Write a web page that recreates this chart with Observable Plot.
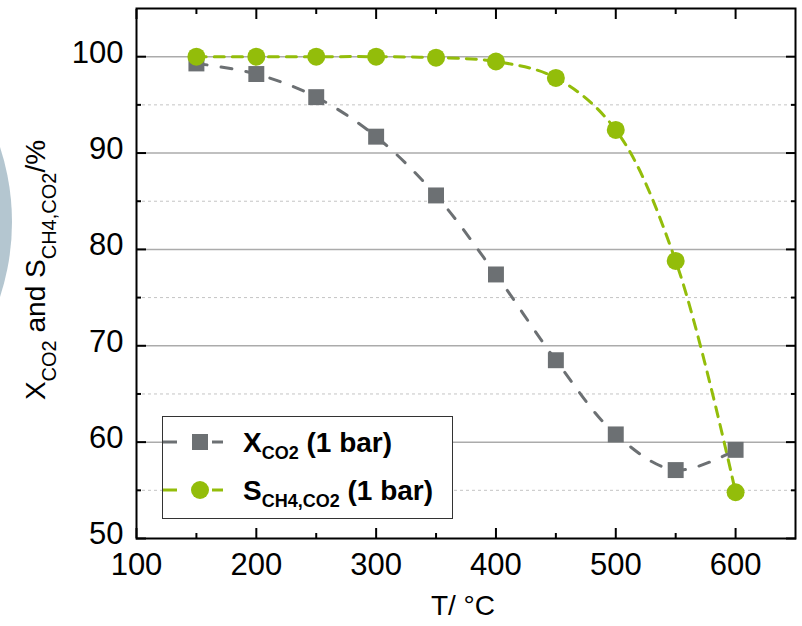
<!DOCTYPE html>
<html><head><meta charset="utf-8">
<script src="https://cdn.jsdelivr.net/npm/d3@7"></script>
<script src="https://cdn.jsdelivr.net/npm/@observablehq/plot@0.6"></script>
<style>
html,body{margin:0;padding:0;background:#fff;overflow:hidden;}
#wrap{position:relative;width:802px;height:626px;}
#deco{position:absolute;left:-468px;top:-18px;width:480px;height:480px;border-radius:50%;background:#b4c6d0;z-index:2;}
</style></head>
<body><div id="wrap"><div id="deco"></div></div>
<script>
// Data
const temperatures = [150, 200, 250, 300, 350, 400, 450, 500, 550, 600];
const conversionCO2 = [99.3, 98.2, 95.8, 91.7, 85.6, 77.4, 68.5, 60.8, 57.1, 59.2];
const selectivityCH4 = [100.0, 100.0, 100.0, 100.0, 99.9, 99.5, 97.8, 92.4, 78.8, 54.8];
const seriesNames = ["X", "S"];
const xMajorTicks = [100, 200, 300, 400, 500, 600];
const xMinorTicks = [150, 250, 350, 450, 550];
const yMajorTicks = [50, 60, 70, 80, 90, 100];
const yMinorTicks = [55, 65, 75, 85, 95];
const yGridMajor = [60, 70, 80, 90, 100];
const xTitle = "T/ °C";

const gray = "#6c7073";
const green = "#93bd0a";

const rows = temperatures.map((t, i) => ({T: t, X: conversionCO2[i], S: selectivityCH4[i]}));
const blank = () => "";
const font = "'Liberation Sans', Arial, sans-serif";

const chart = Plot.plot({
  width: 802, height: 626,
  marginLeft: 136, marginRight: 7, marginTop: 8, marginBottom: 88,
  style: {fontFamily: font, fontSize: "31px", color: "#000", background: "transparent"},
  x: {domain: [100, 650]},
  y: {domain: [50, 105]},
  marks: [
    Plot.ruleY(yMinorTicks, {stroke: "#c4c4c4", strokeDasharray: "3,3", strokeWidth: 1}),
    Plot.ruleY(yGridMajor, {stroke: "#ababab", strokeWidth: 1.5}),
    Plot.line(rows, {x: "T", y: "X", curve: "catmull-rom", stroke: gray, strokeWidth: 3, strokeDasharray: "11,14"}),
    Plot.line(rows, {x: "T", y: "S", curve: "catmull-rom", stroke: green, strokeWidth: 3, strokeDasharray: "10,8"}),
    Plot.dot(rows, {x: "T", y: "X", symbol: "square", r: 9, fill: gray}),
    Plot.dot(rows, {x: "T", y: "S", symbol: "circle", r: 9, fill: green}),
    // inward ticks
    Plot.axisX({ticks: xMajorTicks, anchor: "bottom", tickSize: -10, tickFormat: blank, strokeWidth: 2, label: null}),
    Plot.axisX({ticks: xMinorTicks, anchor: "bottom", tickSize: -5, tickFormat: blank, strokeWidth: 2, label: null}),
    Plot.axisX({ticks: xMajorTicks, anchor: "top", tickSize: -10, tickFormat: blank, strokeWidth: 2, label: null}),
    Plot.axisX({ticks: xMinorTicks, anchor: "top", tickSize: -5, tickFormat: blank, strokeWidth: 2, label: null}),
    Plot.axisY({ticks: yMajorTicks, anchor: "left", tickSize: -10, tickFormat: blank, strokeWidth: 2, label: null}),
    Plot.axisY({ticks: yMinorTicks, anchor: "left", tickSize: -5, tickFormat: blank, strokeWidth: 2, label: null}),
    Plot.axisY({ticks: yMajorTicks, anchor: "right", tickSize: -10, tickFormat: blank, strokeWidth: 2, label: null}),
    Plot.axisY({ticks: yMinorTicks, anchor: "right", tickSize: -5, tickFormat: blank, strokeWidth: 2, label: null}),
    // labels
    Plot.axisX({ticks: xMajorTicks, anchor: "bottom", tickSize: 0, tickPadding: 14, fontSize: 31, label: null}),
    Plot.axisY({ticks: yMajorTicks, anchor: "left", tickSize: 0, tickPadding: 13, fontSize: 31, label: null, dy: -4}),
    Plot.frame({stroke: "#000", strokeWidth: 2})
  ]
});

document.getElementById("wrap").appendChild(chart);
const svg = d3.select(chart);

// Y axis title
const yt = svg.append("text")
  .attr("transform", "translate(45,270) rotate(-90)")
  .attr("text-anchor", "middle")
  .attr("font-family", font).attr("font-size", 28).attr("fill", "#000");
yt.append("tspan").text("X");
yt.append("tspan").attr("font-size", 20).attr("dy", 11).text("CO2");
yt.append("tspan").attr("dy", -11).text(" and S");
yt.append("tspan").attr("font-size", 20).attr("dy", 11).text("CH4,CO2");
yt.append("tspan").attr("dy", -11).text("/%");

// X axis title
svg.append("text")
  .attr("x", 463).attr("y", 615)
  .attr("text-anchor", "middle")
  .attr("font-family", font).attr("font-size", 28).attr("fill", "#000")
  .text(xTitle);

// Legend
const lg = svg.append("g").attr("text-anchor", "start");
lg.append("rect").attr("x", 162.5).attr("y", 416.5).attr("width", 290).attr("height", 102)
  .attr("fill", "#fff").attr("stroke", "#333").attr("stroke-width", 1);
const legendItems = [
  {name: seriesNames[0], sub: "CO2", color: gray, symbol: "square", y: 442},
  {name: seriesNames[1], sub: "CH4,CO2", color: green, symbol: "circle", y: 490}
];
legendItems.forEach(it => {
  lg.append("line").attr("x1", 163).attr("x2", 177).attr("y1", it.y).attr("y2", it.y)
    .attr("stroke", it.color).attr("stroke-width", 3);
  lg.append("line").attr("x1", 212).attr("x2", 223).attr("y1", it.y).attr("y2", it.y)
    .attr("stroke", it.color).attr("stroke-width", 3);
  if (it.symbol === "square") {
    lg.append("rect").attr("x", 192).attr("y", it.y - 8).attr("width", 16).attr("height", 16).attr("fill", it.color);
  } else {
    lg.append("circle").attr("cx", 200).attr("cy", it.y).attr("r", 9).attr("fill", it.color);
  }
  const t = lg.append("text").attr("x", 243).attr("y", it.y + 10).attr("text-anchor", "start")
    .attr("font-family", font).attr("font-weight", "bold").attr("font-size", 28).attr("fill", "#000");
  t.append("tspan").text(it.name);
  t.append("tspan").attr("font-size", 18).attr("dy", 7).text(it.sub);
  t.append("tspan").attr("dy", -7).text(" (1 bar)");
});
</script>
</body></html>
